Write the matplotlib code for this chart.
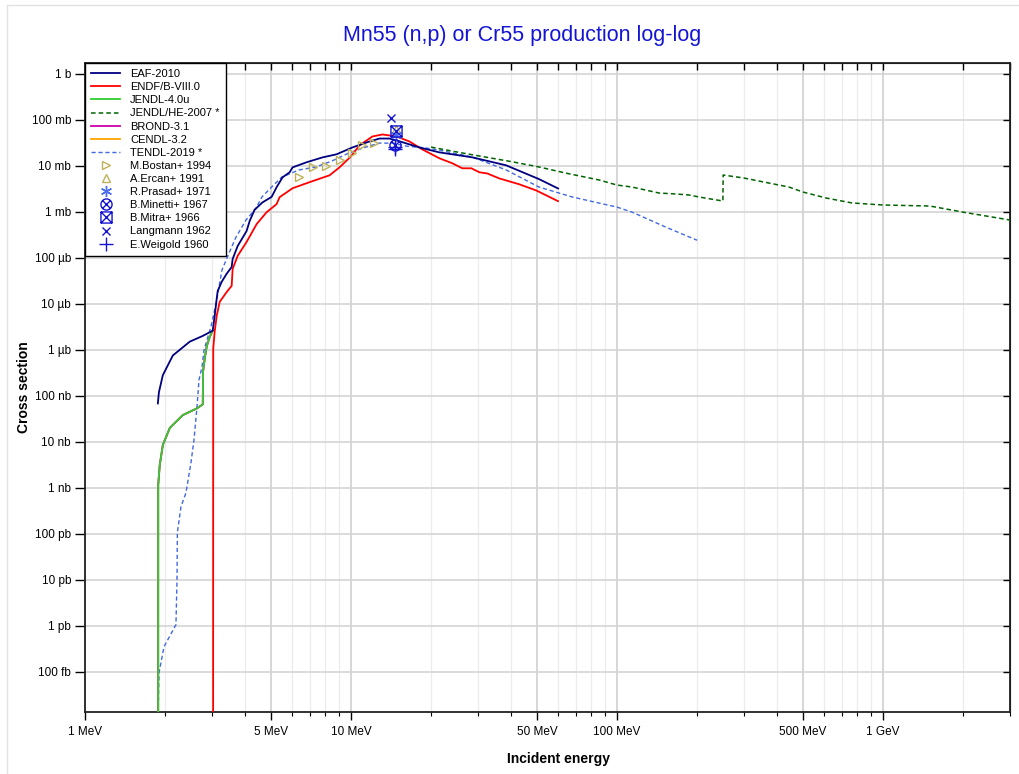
import matplotlib
matplotlib.use('Agg')
import matplotlib.pyplot as plt
from matplotlib.path import Path
from matplotlib.lines import Line2D
from matplotlib.ticker import NullLocator

plt.rcParams['font.family'] = ['Liberation Sans', 'DejaVu Sans']

# ── DATA (energy in MeV, cross section in barns) ─────────────
eaf_e = [1.879, 1.897, 1.962, 2.139, 2.477, 2.772, 3.022, 3.074, 3.128, 3.155, 3.266,
         3.41, 3.56, 3.59, 3.75, 4.05, 4.16, 4.34, 4.65, 5.03, 5.25,
         5.53, 5.88, 6.03, 6.81, 7.82, 8.82, 10.13, 11.43, 12.79, 13.95,
         15.2, 18.07, 21.5, 28.6, 38.3, 50.97, 60.05]
eaf_s = [6.8e-8, 1.2e-7, 2.8e-7, 7.5e-7, 1.5e-6, 2.0e-6, 2.6e-6, 5.5e-6, 1.3e-5, 1.9e-5, 3.0e-5,
         4.5e-5, 6.3e-5, 9.4e-5, 1.8e-4, 3.8e-4, 6.3e-4, 1.1e-3, 1.6e-3, 2.1e-3, 3.4e-3,
         5.6e-3, 7.2e-3, 9.2e-3, 0.0119, 0.0152, 0.0177, 0.025, 0.032, 0.039, 0.039,
         0.034, 0.025, 0.0195, 0.0152, 0.0102, 0.0051, 0.0032]

endf_e = [3.03, 3.035, 3.074, 3.128, 3.21, 3.41, 3.56, 3.59, 3.75, 4.05,
          4.42, 4.82, 5.25, 5.39, 6.03, 6.99, 8.31, 9.05, 10.0, 10.76,
          12.04, 13.13, 14.82, 16.58, 18.55, 21.5, 24.04, 26.2, 28.33, 30.4,
          32.5, 36.1, 42.9, 49.7, 60.0]
endf_s = [1e-20, 1.07e-6, 2.5e-6, 5.5e-6, 1.1e-5, 1.8e-5, 2.45e-5, 5.7e-5, 1.1e-4, 2.2e-4,
          5.4e-4, 9.8e-4, 1.46e-3, 2.07e-3, 3.24e-3, 4.4e-3, 6.2e-3, 9.2e-3, 0.016, 0.0277,
          0.0433, 0.0478, 0.0433, 0.0337, 0.0226, 0.0145, 0.0113, 8.8e-3, 8.8e-3, 7.2e-3,
          6.8e-3, 5.3e-3, 3.95e-3, 2.9e-3, 1.7e-3]

jendl40_e = [1.884, 1.885, 1.91, 1.962, 2.084, 2.332, 2.633, 2.772, 2.78, 2.82,
             2.87, 2.944, 3.022]
jendl40_s = [1e-20, 1.15e-9, 3.1e-9, 8.5e-9, 2.0e-8, 3.8e-8, 5.3e-8, 6.5e-8, 3.4e-7, 6.5e-7,
             1.2e-6, 1.9e-6, 2.6e-6]

jendlhe_e = [20.0, 26.1, 40.3, 50.9, 64.3, 85.6, 100, 113.9, 143.9, 166.7,
             186.5, 203.4, 250, 250.5, 300, 443, 500, 610, 765, 1000,
             1500, 2000, 3000]
jendlhe_s = [0.0254, 0.019, 0.0122, 0.0094, 0.0069, 0.0049, 0.0038, 0.00344, 0.00255, 0.00243,
             0.00231, 0.00209, 0.00171, 0.00628, 0.0054, 0.00344, 0.00268, 0.00199, 0.00155, 0.0014,
             0.00133, 0.00098, 0.00066]

tendl_e = [1.866, 1.898, 1.982, 2.198, 2.218, 2.225, 2.296, 2.397, 2.503, 2.569,
           2.637, 2.683, 2.753, 2.802, 2.977, 3.109, 3.273, 3.479, 3.695, 4.03,
           4.395, 4.628, 5.047, 5.503, 6.375, 7.386, 8.483, 9.83, 11.39, 12.75,
           14.26, 16.1, 19.1, 21.4, 28.5, 38.3, 50.9, 67.7, 100, 113.9,
           152.9, 200]
tendl_s = [1e-15, 9.5e-14, 3.5e-13, 1.06e-12, 1.0e-11, 1.06e-10, 3.9e-10, 7.8e-10, 3.5e-9, 1.1e-8,
           5.7e-8, 2.2e-7, 4.2e-7, 9.8e-7, 3.2e-6, 1.0e-5, 5.4e-5, 1.26e-4, 2.8e-4, 6.6e-4,
           1.2e-3, 2.1e-3, 3.5e-3, 5.7e-3, 8.1e-3, 9.4e-3, 0.0127, 0.019, 0.0255, 0.031,
           0.031, 0.0268, 0.0243, 0.0219, 0.0155, 0.0081, 0.00344, 0.0021, 0.00126, 0.00098,
           4.6e-4, 2.4e-4]

# experimental points
bostan_e = [6.38, 7.2, 8.05, 9.09, 10.09, 11.0, 12.2]
bostan_s = [5.7e-3, 9.4e-3, 0.0098, 0.0133, 0.019, 0.028, 0.031]
ercan_e, ercan_s = [14.8], [0.063]
prasad_e, prasad_s = [14.8], [0.046]
minetti_e, minetti_s = [14.6], [0.028]
mitra_e, mitra_s = [14.8], [0.056]
langmann_e, langmann_s = [14.1], [0.109]
weigold_e, weigold_s = [14.6, 14.6], [0.025, 0.0235]

# axis ticks
x_major = [1, 5, 10, 50, 100, 500, 1000]
x_major_labels = ['1 MeV', '5 MeV', '10 MeV', '50 MeV', '100 MeV', '500 MeV', '1 GeV']
x_minor = [2, 3, 4, 6, 7, 8, 9, 20, 30, 40, 60, 70, 80, 90,
           200, 300, 400, 600, 700, 800, 900, 2000, 3000]
y_major = [1, 1e-1, 1e-2, 1e-3, 1e-4, 1e-5, 1e-6, 1e-7, 1e-8, 1e-9,
           1e-10, 1e-11, 1e-12, 1e-13]
y_major_labels = ['1 b', '100 mb', '10 mb', '1 mb', '100 µb', '10 µb', '1 µb',
                  '100 nb', '10 nb', '1 nb', '100 pb', '10 pb', '1 pb', '100 fb']

# ── FIGURE ───────────────────────────────────────────────────
fig = plt.figure(figsize=(10.2, 7.74), dpi=100)
ax = fig.add_axes([0.0833, 0.080, 0.9069, 0.8386])
ax.set_xscale('log')
ax.set_yscale('log')
ax.set_xlim(1, 3000)
ax.set_ylim(1.33e-14, 1.71)

# grid
for v in x_minor:
    ax.axvline(v, color='#ececec', lw=0.9, zorder=0)
for v in x_major:
    ax.axvline(v, color='#d0d0d0', lw=1.2, zorder=0)
for v in y_major:
    ax.axhline(v, color='#d4d4d4', lw=1.2, zorder=0)

# evaluated data (first legend entry drawn on top)
l_tendl, = ax.plot(tendl_e, tendl_s, color='#4169e1', lw=1.0, ls=(0, (3, 2)),
                   label='TENDL-2019 *', zorder=2)
l_cendl, = ax.plot(jendl40_e, jendl40_s, color='#ffa500', lw=1.3,
                   label='CENDL-3.2', zorder=3)
l_brond, = ax.plot(jendl40_e, jendl40_s, color='#cc00aa', lw=1.3,
                   label='BROND-3.1', zorder=4)
l_jhe, = ax.plot(jendlhe_e, jendlhe_s, color='#006400', lw=1.1, ls=(0, (3, 2)),
                 label='JENDL/HE-2007 *', zorder=5)
l_j40, = ax.plot(jendl40_e, jendl40_s, color='#32cd32', lw=1.3,
                 label='JENDL-4.0u', zorder=6)
l_endf, = ax.plot(endf_e, endf_s, color='#ff0000', lw=1.3,
                  label='ENDF/B-VIII.0', zorder=7)
l_eaf, = ax.plot(eaf_e, eaf_s, color='#000080', lw=1.3,
                 label='EAF-2010', zorder=8)

# experimental data
olive = '#bdb25a'
blue = '#1515d0'
circ_x = Path.make_compound_path(
    Path.unit_circle(),
    Path([(-0.7, -0.7), (0.7, 0.7)], [Path.MOVETO, Path.LINETO]),
    Path([(-0.7, 0.7), (0.7, -0.7)], [Path.MOVETO, Path.LINETO]))
sq_x = Path.make_compound_path(
    Path([(-1, -1), (1, -1), (1, 1), (-1, 1), (-1, -1)],
         [Path.MOVETO, Path.LINETO, Path.LINETO, Path.LINETO, Path.CLOSEPOLY]),
    Path([(-1, -1), (1, 1)], [Path.MOVETO, Path.LINETO]),
    Path([(-1, 1), (1, -1)], [Path.MOVETO, Path.LINETO]))

m_bostan, = ax.plot(bostan_e, bostan_s, ls='none', marker='>', ms=6, mfc='none',
                    mec=olive, mew=1.0, label='M.Bostan+ 1994', zorder=9)
m_ercan, = ax.plot(ercan_e, ercan_s, ls='none', marker='^', ms=6, mfc='none',
                   mec=olive, mew=1.0, label='A.Ercan+ 1991', zorder=9)
m_prasad, = ax.plot(prasad_e, prasad_s, ls='none', marker=(6, 2, 0), ms=8,
                    mec='#4a6cf0', mew=1.0, label='R.Prasad+ 1971', zorder=9)
m_minetti, = ax.plot(minetti_e, minetti_s, ls='none', marker=circ_x, ms=8, mfc='none',
                     mec=blue, mew=1.0, label='B.Minetti+ 1967', zorder=9)
m_mitra, = ax.plot(mitra_e, mitra_s, ls='none', marker=sq_x, ms=8, mfc='none',
                   mec=blue, mew=1.0, label='B.Mitra+ 1966', zorder=9)
m_lang, = ax.plot(langmann_e, langmann_s, ls='none', marker='x', ms=6,
                  mec=blue, mew=1.0, label='Langmann 1962', zorder=9)
m_weig, = ax.plot(weigold_e, weigold_s, ls='none', marker='+', ms=10,
                  mec=blue, mew=1.0, label='E.Weigold 1960', zorder=9)

handles = [l_eaf, l_endf, l_j40, l_jhe, l_brond, l_cendl, l_tendl,
           m_bostan, m_ercan, m_prasad, m_minetti, m_mitra, m_lang, m_weig]
leg = ax.legend(handles=handles, loc='upper left', bbox_to_anchor=(0, 1),
                borderaxespad=0, fontsize=8, handlelength=2.6, handletextpad=0.9,
                labelspacing=0.28, fancybox=False, framealpha=1,
                edgecolor='black', borderpad=0.55)
leg.get_frame().set_linewidth(1.0)
leg.set_zorder(20)

# ticks
ax.set_xticks(x_major, x_major_labels)
ax.set_xticks(x_minor, minor=True)
ax.set_xticklabels([], minor=True)
ax.set_yticks(y_major, y_major_labels)
ax.yaxis.set_minor_locator(NullLocator())
ax.tick_params(axis='x', which='major', direction='out', length=6, width=1,
               labelsize=8.5, pad=4)
ax.tick_params(axis='x', which='minor', direction='out', length=3, width=0.8)
ax.tick_params(axis='y', which='major', direction='out', length=7, width=1,
               labelsize=8.5, pad=3)

top = ax.secondary_xaxis('top')
top.set_xticks(x_major + x_minor)
top.set_xticklabels([])
top.tick_params(direction='in', length=5, width=1)
right = ax.secondary_yaxis('right')
right.set_yticks(y_major)
right.set_yticklabels([])
right.yaxis.set_minor_locator(NullLocator())
right.tick_params(direction='in', length=5, width=1)

for sp in ax.spines.values():
    sp.set_linewidth(1.3)
    sp.set_color('#222222')

ax.set_xlabel('Incident energy', fontsize=10, fontweight='bold')
ax.set_ylabel('Cross section', fontsize=10, fontweight='bold')
ax.xaxis.set_label_coords(0.512, -0.0615)
ax.yaxis.set_label_coords(-0.058, 0.5)
fig.text(0.5115, 0.954, 'Mn55 (n,p) or Cr55 production log-log', ha='center',
         va='center', fontsize=15.5, color='#1414d4')

# faint panel border
fig.add_artist(Line2D([0.007, 0.007], [0, 0.994], color='#e2e2e2', lw=1,
                      transform=fig.transFigure))
fig.add_artist(Line2D([0.007, 1.0], [0.994, 0.994], color='#e2e2e2', lw=1,
                      transform=fig.transFigure))

fig.savefig('out.png', dpi=100)
